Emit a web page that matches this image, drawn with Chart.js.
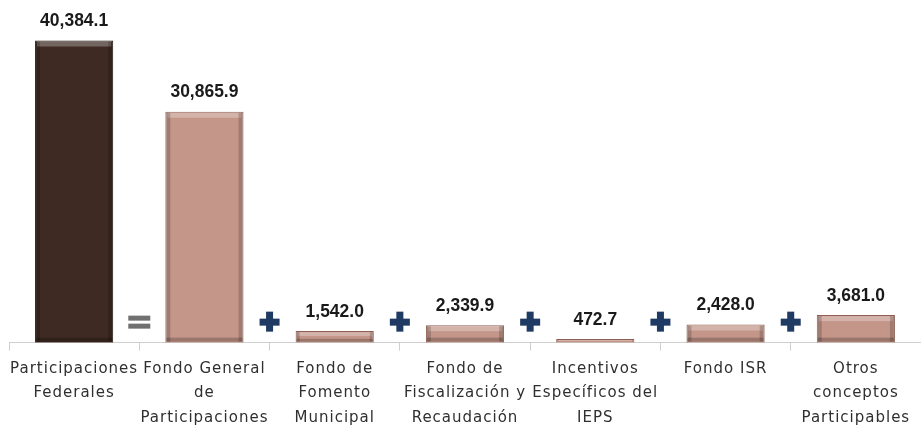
<!DOCTYPE html>
<html>
<head>
<meta charset="utf-8">
<script src="https://cdn.jsdelivr.net/npm/chart.js@4.4.1/dist/chart.umd.min.js"></script>
<style>
  html, body { margin: 0; padding: 0; background: #ffffff; }
  #wrap { width: 921px; height: 436px; }
</style>
</head>
<body>
<div id="wrap"><canvas id="chart"></canvas></div>
<script>
// categories (multi-line labels) and values
const categories = [
    ['Participaciones', 'Federales'],
    ['Fondo General', 'de', 'Participaciones'],
    ['Fondo de', 'Fomento', 'Municipal'],
    ['Fondo de', 'Fiscalización y', 'Recaudación'],
    ['Incentivos', 'Específicos del', 'IEPS'],
    ['Fondo ISR'],
    ['Otros', 'conceptos', 'Participables']
];
const values = [40384.1, 30865.9, 1542.0, 2339.9, 472.7, 2428.0, 3681.0];
// operator placed between consecutive categories
const operators = ['=', '+', '+', '+', '+', '+'];

const barColors = ['#3e2a22', '#c4968a', '#c4968a', '#c4968a', '#c4968a', '#c4968a', '#c4968a'];
const edgeColors = ['#22150f', '#8f6052', '#8f6052', '#8f6052', '#8f6052', '#8f6052', '#8f6052'];

function fmt(v) {
    return v.toLocaleString('en-US', { minimumFractionDigits: 1, maximumFractionDigits: 1 });
}

// wide spacing for the category labels
const spacingPlugin = {
    id: 'spacing',
    beforeInit(chart) { chart.ctx.letterSpacing = '1px'; },
    beforeUpdate(chart) { chart.ctx.letterSpacing = '1px'; },
    beforeDraw(chart) { chart.ctx.letterSpacing = '1px'; }
};

// bevel look, value labels and the = / + signs
const decorPlugin = {
    id: 'decor',
    afterDatasetsDraw(chart) {
        const ctx = chart.ctx;
        const meta = chart.getDatasetMeta(0);
        const xs = chart.scales.x;
        ctx.save();
        ctx.letterSpacing = '0px';
        meta.data.forEach((bar, i) => {
            const left = bar.x - bar.width / 2;
            const h = bar.base - bar.y;
            const b = Math.min(5, h / 3);
            // light top strip
            ctx.fillStyle = 'rgba(255,255,255,0.28)';
            ctx.fillRect(left + 2, bar.y + 1, bar.width - 4, b);
            // darker side edges
            ctx.fillStyle = 'rgba(0,0,0,0.18)';
            ctx.fillRect(left + 1, bar.y + 1, b * 0.8, h - 2);
            ctx.fillRect(left + bar.width - 1 - b * 0.8, bar.y + 1, b * 0.8, h - 2);
            ctx.fillStyle = 'rgba(0,0,0,0.22)';
            ctx.fillRect(left + 1, bar.base - b, bar.width - 2, b - 1);

            // condensed bold value label
            ctx.save();
            ctx.translate(bar.x, bar.y - 10);
            ctx.scale(0.92, 1);
            ctx.fillStyle = '#1a1a1a';
            ctx.font = 'bold 19px "Liberation Sans", sans-serif';
            ctx.textAlign = 'center';
            ctx.textBaseline = 'bottom';
            ctx.fillText(fmt(values[i]), 0, 0);
            ctx.restore();
        });
        const step = xs.getPixelForValue(1) - xs.getPixelForValue(0);
        const yMid = xs.top - 21;
        operators.forEach((op, i) => {
            const cx = xs.getPixelForValue(i) + step / 2;
            if (op === '=') {
                ctx.fillStyle = '#707070';
                ctx.fillRect(cx - 11, yMid - 6, 22, 5);
                ctx.fillRect(cx - 11, yMid + 2, 22, 5);
            } else {
                ctx.fillStyle = '#1f3a63';
                ctx.fillRect(cx - 10, yMid - 3, 20, 7);
                ctx.fillRect(cx - 3.5, yMid - 10, 7, 20);
            }
        });
        ctx.restore();
    }
};

new Chart(document.getElementById('chart'), {
    type: 'bar',
    data: {
        labels: categories,
        datasets: [{
            data: values,
            backgroundColor: barColors,
            borderColor: edgeColors,
            borderWidth: 1,
            barPercentage: 0.6,
            categoryPercentage: 1.0
        }]
    },
    options: {
        responsive: true,
        maintainAspectRatio: false,
        animation: false,
        layout: { padding: { left: 9, right: 0, top: 0, bottom: 0 } },
        plugins: {
            legend: { display: false },
            tooltip: { enabled: false }
        },
        scales: {
            y: {
                display: false,
                min: 0,
                max: 45800
            },
            x: {
                border: { display: true, color: '#cfcfcf', width: 1 },
                grid: {
                    display: true,
                    drawOnChartArea: false,
                    drawTicks: true,
                    tickLength: 8,
                    color: '#cfcfcf',
                    offset: true
                },
                ticks: {
                    color: '#2f2f2f',
                    maxRotation: 0,
                    autoSkip: false,
                    padding: 6,
                    font: { family: '"DejaVu Sans", sans-serif', size: 15, lineHeight: 1.63 }
                }
            }
        }
    },
    plugins: [spacingPlugin, decorPlugin]
});
</script>
</body>
</html>
